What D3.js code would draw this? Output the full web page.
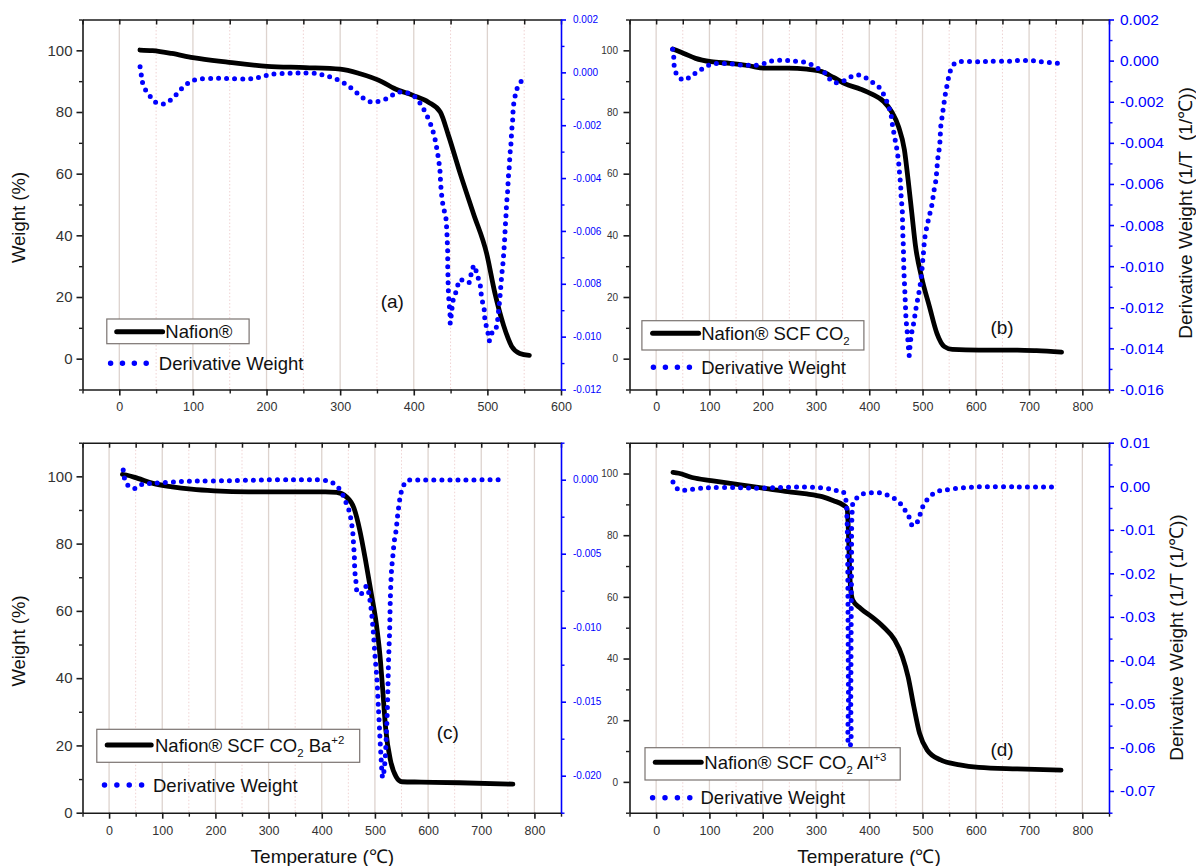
<!DOCTYPE html>
<html><head><meta charset="utf-8">
<script src="https://cdn.jsdelivr.net/npm/d3@7"></script>
<style>
body{margin:0;background:#fff;}
svg text{font-family:"Liberation Sans",Arial,Helvetica,sans-serif;}
</style></head><body>
<svg id="chart" width="1196" height="866"></svg>
<script>
// ---------- DATA (temperature °C, value) ----------
const weightA = [[28,100.1],[45,99.9],[71,99.0],[100,97.6],[149,96.1],[201,94.8],[253,94.4],[300,93.9],[326,92.5],[357,89.8],[373,87.7],[399,85.4],[420,83.2],[436,80.0],[447,72.5],[463,60.1],[481,47.1],[499,34.1],[510,21.5],[522,10.8],[533,4.0],[544,1.7],[557,1.1]];
const derivA = [[28.2,0.00021],[30.3,-0.00017],[32.9,-0.00052],[40.7,-0.00086],[48.5,-0.00112],[59.9,-0.0012],[70.3,-0.00103],[78.1,-0.00082],[86.4,-0.00057],[96.3,-0.00036],[107.2,-0.00026],[128,-0.00023],[148.8,-0.00023],[171.2,-0.00025],[183.6,-0.00023],[196.7,-0.00014],[208.1,-0.00007],[228.9,-0.00004],[247.6,-0.00002],[267.3,-0.00004],[277.8,-0.00011],[289.2,-0.0002],[299.5,-0.00032],[309.4,-0.00048],[318.3,-0.00067],[327.6,-0.00089],[337,-0.00108],[346.4,-0.00112],[360.4,-0.00103],[370.8,-0.00086],[381.2,-0.00074],[391.6,-0.00078],[401.7,-0.00093],[409.4,-0.0012],[417.5,-0.00162],[423,-0.00197],[427.9,-0.00241],[431.1,-0.00286],[433.8,-0.00332],[435.6,-0.00373],[436.5,-0.0042],[437.9,-0.00465],[440.1,-0.00509],[443.4,-0.00547],[444.7,-0.00591],[445.5,-0.00639],[446.1,-0.00685],[446.1,-0.00729],[446.5,-0.00774],[446.9,-0.00821],[447.8,-0.00865],[449.2,-0.00912],[449.6,-0.0095],[451.4,-0.00906],[453.7,-0.00859],[458.3,-0.00824],[462.8,-0.00784],[470.9,-0.00795],[475.4,-0.00795],[478.7,-0.00751],[482.3,-0.0073],[485.5,-0.00761],[490,-0.00801],[492.2,-0.00852],[495.8,-0.009],[497.1,-0.00948],[499.9,-0.00969],[502.6,-0.01016],[506.3,-0.00986],[509.9,-0.00982],[513.5,-0.00944],[515.3,-0.009],[517.1,-0.00849],[518.5,-0.00801],[519.8,-0.00759],[521.2,-0.00721],[522.5,-0.00673],[523.5,-0.00629],[524.3,-0.00585],[525.3,-0.0054],[526.2,-0.00494],[527.6,-0.00448],[528.4,-0.00401],[529.8,-0.00355],[530.7,-0.00309],[532.1,-0.00267],[533,-0.00222],[534.4,-0.00178],[535.3,-0.0013],[538,-0.00086],[542,-0.0005],[550.7,-0.00019]];

const weightB = [[31,100.4],[52,99.0],[74,97.4],[103,96.3],[139,95.8],[175,95.0],[203,94.2],[247,94.2],[283,93.9],[311,93.1],[333,91.2],[355,89.1],[384,87.4],[406,85.7],[427,83.4],[442,80.1],[455,75.2],[466,67.7],[473,57.9],[480,47.1],[487,36.3],[498,26.6],[513,16.9],[527,8.2],[541,3.9],[556,3.0],[606,2.8],[678,2.8],[714,2.6],[761,2.1]];
const derivB = [[31,0.00055],[33,0.00018],[35,-0.00044],[42,-0.00079],[54,-0.00095],[65,-0.00075],[78,-0.00055],[90,-0.00034],[103,-0.00018],[117,-0.00014],[132,-0.00014],[146,-0.00018],[160,-0.00022],[175,-0.00022],[189,-0.00022],[203,-0.00014],[214,-0.00003],[229,0.00002],[243,0],[254,0],[268,-0.00006],[281,-0.00009],[293,-0.00022],[304,-0.00039],[315,-0.00055],[322,-0.00076],[331,-0.00104],[347,-0.00104],[360,-0.00087],[370,-0.00073],[383,-0.00071],[396,-0.00087],[408,-0.00109],[419,-0.00131],[428,-0.00169],[435,-0.00213],[441,-0.00266],[444,-0.0032],[448,-0.00377],[452,-0.00434],[455,-0.00493],[457,-0.0055],[459,-0.00612],[460,-0.00668],[462,-0.00729],[462.5,-0.00786],[463,-0.00843],[464,-0.00904],[464.5,-0.00964],[465,-0.01021],[466,-0.01078],[467,-0.01135],[468,-0.01196],[469,-0.01256],[471,-0.01313],[473,-0.01375],[475,-0.01435],[477,-0.01375],[480,-0.0132],[484,-0.01268],[487,-0.01216],[491,-0.01159],[495,-0.01102],[498,-0.01042],[500,-0.00985],[502,-0.00927],[504,-0.00868],[508,-0.0081],[513,-0.00753],[518,-0.00696],[521,-0.0064],[525,-0.00583],[527,-0.00526],[529,-0.00469],[531,-0.00436],[533,-0.00384],[534,-0.00326],[537,-0.00269],[540,-0.00213],[543,-0.00161],[547,-0.00107],[551,-0.0006],[557,-0.00022],[567,-0.00006],[606,-0.00006],[628,-0.00003],[664,-0.00003],[678,0],[703,0],[725,-0.00006],[757,-0.00014]];

const weightC = [[25.1,100.6],[32.3,100.4],[53.9,99.4],[82.7,97.9],[118.7,96.9],[154.7,96.2],[197.9,95.7],[262.7,95.4],[334.7,95.4],[406.7,95.4],[428.3,95.2],[446.3,93.9],[460.7,90.5],[471.5,84.0],[482.3,75.1],[493.1,65.2],[502.5,56.3],[509.7,46.4],[514.7,36.5],[520.5,24.6],[529.1,15.7],[539.9,10.7],[550.7,9.2],[586.7,9.1],[658.7,8.9],[759.5,8.5]];
const derivC = [[26.6,0.00066],[29.4,0.00005],[38,-0.00047],[51,-0.00058],[63.3,-0.00029],[79.1,-0.00025],[100.7,-0.0002],[133.1,-0.00013],[169.1,-0.00009],[226.7,-0.00007],[284.3,-0.00002],[341.9,0],[377.9,0],[395.9,-0.00002],[412.5,-0.00009],[424.7,-0.00031],[435.5,-0.00074],[444.1,-0.00142],[451.3,-0.00209],[455.6,-0.00284],[458.5,-0.00362],[459.9,-0.00441],[461.4,-0.00525],[462.1,-0.0061],[464.3,-0.00689],[467.9,-0.00768],[475.1,-0.00768],[484.5,-0.00718],[489.5,-0.0079],[493.1,-0.0088],[496.7,-0.01016],[500.3,-0.01196],[503.9,-0.01353],[506.1,-0.01511],[507.5,-0.01601],[511.1,-0.01849],[514.7,-0.02013],[518.3,-0.01928],[521.9,-0.01691],[524.1,-0.01466],[525.5,-0.01241],[527.7,-0.01016],[529.1,-0.0079],[531.3,-0.0061],[534.2,-0.00498],[536.3,-0.00419],[539.9,-0.0034],[542.1,-0.00261],[545,-0.00178],[548.6,-0.00097],[554.3,-0.00036],[561.5,-0.00007],[586.7,-0.00002],[658.7,-0.00002],[745,0]];

const weightD = [[31.6,100.4],[42.4,100.1],[67.5,98.7],[103.4,97.7],[139.3,96.8],[175.1,95.9],[211,95.0],[246.9,94.1],[282.8,93.4],[311.5,92.5],[333,91.2],[351,89.8],[358.2,88.7],[360.3,83.8],[361.8,76.3],[363.2,68.7],[365.3,62.2],[368.9,59.0],[383.3,56.3],[404.8,53.5],[426.3,50.3],[447.8,46.0],[462.2,40.6],[472.9,34.1],[483.7,24.4],[494.5,15.7],[508.8,10.3],[533.9,7.1],[569.8,5.5],[605.7,4.7],[677.5,4.2],[760,3.8]];
const derivD = [[31.6,0.001],[42.4,-0.00084],[60.3,-0.00084],[81.8,-0.00046],[103.4,-0.00031],[146.4,-0.00031],[189.4,-0.00046],[232.5,-0.00031],[275.5,-0.00015],[318.6,-0.00046],[336.5,-0.00092],[350.9,-0.0013],[355.9,-0.003],[358.2,-0.0072],[359.6,-0.0179],[360.3,-0.0332],[361,-0.0485],[361.8,-0.0596],[363.9,-0.0596],[365.3,-0.0485],[366,-0.0332],[366.8,-0.0179],[367.5,-0.0072],[370.4,-0.0035],[377.5,-0.0026],[386.8,-0.0018],[401.1,-0.0015],[419.1,-0.0015],[437,-0.0022],[451.4,-0.0032],[462.2,-0.0045],[469.4,-0.006],[474.4,-0.007],[481.6,-0.0091],[490.9,-0.0081],[496.7,-0.006],[503.1,-0.004],[512.5,-0.0026],[525.4,-0.0013],[541.2,-0.0009],[562.7,-0.0005],[584.2,-0.0003],[605.7,-0.00015],[677.5,-0.00015],[749.3,-0.00015]];

// legend / label texts
const seriesNames = ["Nafion®", "Nafion® SCF CO|2|", "Nafion® SCF CO|2| Ba^+2^", "Nafion® SCF CO|2| Al^+3^"];
const derivName = "Derivative Weight";
const panelLabels = ["(a)", "(b)", "(c)", "(d)"];
const xTitle = "Temperature (℃)";
const yTitle = "Weight (%)";
const y2Titles = ["Derivative Weight (1/T  (1/℃))", "Derivative Weight (1/T (1/℃))"];

// ---------- LAYOUT ----------
const panels = [
 {left:82.5,right:561,top:19.5,bottom:389.5,xDom:[-50,600],yDom:[-10,110],dDom:[-0.012,0.002],dMajor:0.002,dMinor:0.001,dFmt:".3f",
  leftFont:15,leftPad:4,rightFont:10,rightPad:7,weight:weightA,deriv:derivA,name:seriesNames[0],
  legend:{box:[106.8,319,142.3,24.7],lineY:331.7,lineX:[116.7,162.6],textX:165.3,dotY:363.3,dotX:[110.6,146.2],dotTextX:158.8},
  label:{text:panelLabels[0],x:392.3,y:308},leftTitle:{x:19,y:217.5}},
 {left:629.5,right:1109,top:19.5,bottom:389.5,xDom:[-50,850],yDom:[-10,110],dDom:[-0.016,0.002],dMajor:0.002,dMinor:0.001,dFmt:".3f",
  leftFont:10,leftPad:5.5,rightFont:15.5,rightPad:6,weight:weightB,deriv:derivB,name:seriesNames[1],
  legend:{box:[641.9,320.7,222,29.3],lineY:333.3,lineX:[652.6,698.6],textX:701.2,dotY:367.3,dotX:[653.4,689.4],dotTextX:701.2},
  label:{text:panelLabels[1],x:1002,y:334},rightTitle:{text:y2Titles[0],x:1185.4,y:213}},
 {left:82.5,right:561,top:442.7,bottom:812.7,xDom:[-50,850],yDom:[0,110],dDom:[-0.0225,0.0025],dMajor:0.005,dMinor:0.0025,dFmt:".3f",
  leftFont:15,leftPad:4,rightFont:10,rightPad:7,weight:weightC,deriv:derivC,name:seriesNames[2],
  legend:{box:[96.8,729.3,262.9,33],lineY:745,lineX:[107.2,151.2],textX:155,dotY:785,dotX:[104.5,141.6],dotTextX:153},
  label:{text:panelLabels[2],x:447.8,y:739},leftTitle:{x:19,y:641},bottomTitle:{x:322.4,y:863}},
 {left:629.5,right:1109,top:442.7,bottom:812.7,xDom:[-50,850],yDom:[-10,110],dDom:[-0.075,0.01],dMajor:0.01,dMinor:0.005,dFmt:".2f",
  leftFont:10,leftPad:5.5,rightFont:15.5,rightPad:6,weight:weightD,deriv:derivD,name:seriesNames[3],
  legend:{box:[645,747.7,255.2,32.3],lineY:762.3,lineX:[655.3,701.2],textX:704.3,dotY:797.7,dotX:[652.6,689.8],dotTextX:700.5},
  label:{text:panelLabels[3],x:1002,y:756},rightTitle:{text:y2Titles[1],x:1176,y:637.5},bottomTitle:{x:869,y:863}}
];

const svg = d3.select("#chart");
const BLUE = "#0000ff", AX = "#1a1a1a", LBL = "#333";

function styleAxis(sel, color, width){
  sel.select(".domain").attr("stroke", color).attr("stroke-width", width);
  sel.selectAll(".tick line").attr("stroke", color).attr("stroke-width", width);
}

function addRichText(sel, str, size){
  // "|x|" = subscript, "^x^" = superscript
  const tokens = str.split(/(\|[^|]*\||\^[^^]*\^)/).filter(s => s.length);
  let shift = 0;
  tokens.forEach(tok => {
    let txt = tok, fs = size, dy = -shift; shift = 0;
    if (tok.startsWith("|")) { txt = tok.slice(1,-1); fs = size*0.62; shift = size*0.3; dy += shift; }
    else if (tok.startsWith("^")) { txt = tok.slice(1,-1); fs = size*0.62; shift = -size*0.42; dy += shift; }
    sel.append("tspan").attr("dy", dy).attr("font-size", fs).text(txt);
  });
}

panels.forEach(p => {
  const g = svg.append("g");
  const x = d3.scaleLinear().domain(p.xDom).range([p.left, p.right]);
  const y = d3.scaleLinear().domain(p.yDom).range([p.bottom, p.top]);
  const y2 = d3.scaleLinear().domain(p.dDom).range([p.bottom, p.top]);

  // vertical grid
  const g100 = d3.range(0, p.xDom[1], 100).filter(v => v > p.xDom[0]);
  const g50 = d3.range(50, p.xDom[1], 100);
  g.append("g").selectAll("line").data(g50).join("line")
    .attr("x1", d => x(d)).attr("x2", d => x(d)).attr("y1", p.top).attr("y2", p.bottom)
    .attr("stroke", "#efd3d3").attr("stroke-width", 1).attr("stroke-dasharray", "1.5,2");
  g.append("g").selectAll("line").data(g100).join("line")
    .attr("x1", d => x(d)).attr("x2", d => x(d)).attr("y1", p.top).attr("y2", p.bottom)
    .attr("stroke", "#ddd3ce").attr("stroke-width", 1.3);

  // x axis
  const xMaj = d3.range(0, p.xDom[1] + 1, 100);
  const xMin = d3.range(-50, p.xDom[1] + 1, 100);
  const bx = g.append("g").attr("transform", `translate(0,${p.bottom})`)
    .call(d3.axisBottom(x).tickValues(xMaj).tickSize(6).tickSizeOuter(0).tickPadding(7).tickFormat(d3.format("d")));
  styleAxis(bx, AX, 1.6);
  bx.selectAll("text").attr("font-size", 12.5).attr("fill", LBL);
  const bxm = g.append("g").attr("transform", `translate(0,${p.bottom})`)
    .call(d3.axisBottom(x).tickValues(xMin).tickSize(4).tickFormat(""));
  bxm.select(".domain").remove(); styleAxis(bxm, AX, 1.4);
  const tx = g.append("g").attr("transform", `translate(0,${p.top})`)
    .call(d3.axisTop(x).tickValues(xMaj.concat(xMin)).tickSize(-5).tickSizeOuter(0).tickFormat(""));
  styleAxis(tx, AX, 1.5);

  // left axis
  const yMaj = d3.range(0, 101, 20);
  const yMin = d3.range(p.yDom[0], p.yDom[1] + 1, 10).filter(v => !yMaj.includes(v));
  const ly = g.append("g").attr("transform", `translate(${p.left},0)`)
    .call(d3.axisLeft(y).tickValues(yMaj).tickSize(6).tickSizeOuter(0).tickPadding(p.leftPad).tickFormat(d3.format("d")));
  styleAxis(ly, AX, 1.6);
  ly.selectAll("text").attr("font-size", p.leftFont).attr("fill", LBL);
  const lym = g.append("g").attr("transform", `translate(${p.left},0)`)
    .call(d3.axisLeft(y).tickValues(yMin).tickSize(3.5).tickFormat(""));
  lym.select(".domain").remove(); styleAxis(lym, AX, 1.4);

  // right axis
  const n = Math.round((p.dDom[1] - p.dDom[0]) / p.dMinor);
  const dAll = d3.range(n + 1).map(i => +(p.dDom[0] + i * p.dMinor).toFixed(6));
  const isMaj = v => Math.abs(v / p.dMajor - Math.round(v / p.dMajor)) < 1e-6;
  const fmt = d3.format(p.dFmt);
  const ry = g.append("g").attr("transform", `translate(${p.right},0)`)
    .call(d3.axisRight(y2).tickValues(dAll.filter(isMaj)).tickSize(5).tickSizeOuter(0).tickPadding(p.rightPad)
      .tickFormat(v => fmt(Math.abs(v) < 1e-9 ? 0 : v).replace("\u2212", "-")));
  styleAxis(ry, BLUE, 1.6);
  ry.selectAll("text").attr("font-size", p.rightFont).attr("fill", BLUE);
  const rym = g.append("g").attr("transform", `translate(${p.right},0)`)
    .call(d3.axisRight(y2).tickValues(dAll.filter(v => !isMaj(v))).tickSize(3.5).tickFormat(""));
  rym.select(".domain").remove(); styleAxis(rym, BLUE, 1.4);

  // weight curve
  const lineW = d3.line().x(d => x(d[0])).y(d => y(d[1])).curve(d3.curveMonotoneX);
  g.append("path").datum(p.weight).attr("d", lineW).attr("fill", "none")
    .attr("stroke", "#000").attr("stroke-width", 4.8).attr("stroke-linecap", "round").attr("stroke-linejoin", "round");
  // derivative (dotted)
  const lineD = d3.line().x(d => x(d[0])).y(d => y2(d[1])).curve(d3.curveCatmullRom.alpha(0.5));
  g.append("path").datum(p.deriv).attr("d", lineD).attr("fill", "none")
    .attr("stroke", BLUE).attr("stroke-width", 5).attr("stroke-linecap", "round").attr("stroke-dasharray", "0 8");

  // legend
  const L = p.legend;
  g.append("rect").attr("x", L.box[0]).attr("y", L.box[1]).attr("width", L.box[2]).attr("height", L.box[3])
    .attr("fill", "#fff").attr("stroke", "#7a7370").attr("stroke-width", 1.2);
  g.append("line").attr("x1", L.lineX[0]).attr("x2", L.lineX[1]).attr("y1", L.lineY).attr("y2", L.lineY)
    .attr("stroke", "#000").attr("stroke-width", 5).attr("stroke-linecap", "round");
  const t1 = g.append("text").attr("x", L.textX).attr("y", L.lineY + 6.5).attr("font-size", 18.5).attr("fill", "#111");
  addRichText(t1, p.name, 18.5);
  const sp = (L.dotX[1] - L.dotX[0]) / 3;
  g.append("line").attr("x1", L.dotX[0]).attr("x2", L.dotX[1] + 0.5).attr("y1", L.dotY).attr("y2", L.dotY)
    .attr("stroke", BLUE).attr("stroke-width", 5.5).attr("stroke-linecap", "round").attr("stroke-dasharray", `0 ${sp}`);
  g.append("text").attr("x", L.dotTextX).attr("y", L.dotY + 6.5).attr("font-size", 18.5).attr("fill", "#111").text(derivName);

  // panel label
  g.append("text").attr("x", p.label.x).attr("y", p.label.y).attr("text-anchor", "middle")
    .attr("font-size", 19).attr("fill", "#111").text(p.label.text);

  if (p.leftTitle) g.append("text").attr("transform", `translate(${p.leftTitle.x},${p.leftTitle.y}) rotate(-90)`)
    .attr("text-anchor", "middle").attr("dy", "0.35em").attr("font-size", 18.5).attr("fill", "#111").text(yTitle);
  if (p.rightTitle) g.append("text").attr("transform", `translate(${p.rightTitle.x},${p.rightTitle.y}) rotate(-90)`)
    .attr("text-anchor", "middle").attr("dy", "0.35em").attr("font-size", 19).attr("fill", "#111")
    .style("white-space", "pre").attr("xml:space", "preserve").text(p.rightTitle.text);
  if (p.bottomTitle) g.append("text").attr("x", p.bottomTitle.x).attr("y", p.bottomTitle.y)
    .attr("text-anchor", "middle").attr("font-size", 19).attr("fill", "#111").text(xTitle);
});
</script>
</body></html>
